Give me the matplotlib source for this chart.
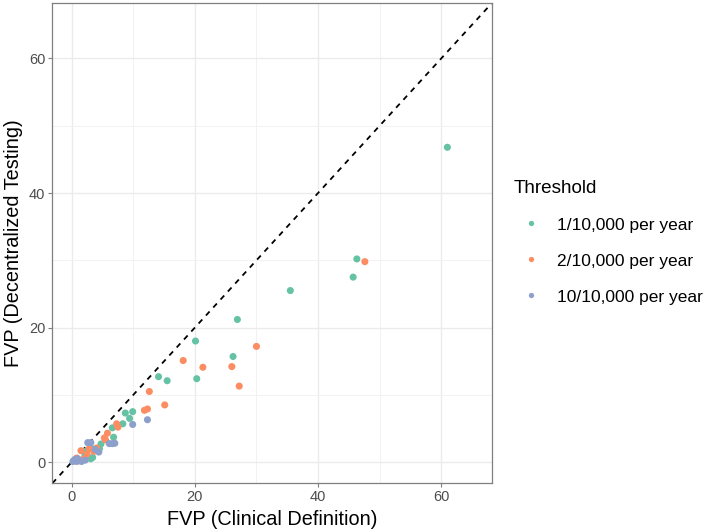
import matplotlib
matplotlib.use("Agg")
import matplotlib.pyplot as plt
from matplotlib.lines import Line2D

plt.rcParams['font.family'] = ['Liberation Sans', 'DejaVu Sans']

# Data
labels = ["1/10,000 per year", "2/10,000 per year", "10/10,000 per year"]
colors = ["#66C2A5", "#FC8D62", "#8DA0CB"]

x_1 = [61.0, 46.3, 45.7, 35.5, 26.9, 20.1, 26.2, 14.1, 15.5, 20.3, 9.9, 8.7, 9.4,
       8.3, 6.6, 6.8, 4.75, 4.5, 3.3, 1.9, 3.1, 2.15, 3.4, 0.3, 1.2]
y_1 = [46.8, 30.2, 27.5, 25.5, 21.2, 18.0, 15.7, 12.7, 12.1, 12.4, 7.5, 7.3, 6.5,
       5.7, 5.1, 3.7, 2.7, 2.0, 2.0, 1.6, 0.5, 0.9, 0.7, 0.2, 0.3]

x_2 = [47.6, 30.0, 18.1, 21.3, 26.0, 27.2, 12.6, 15.1, 11.8, 12.3, 7.3, 7.5, 5.8,
       5.3, 5.5, 2.85, 3.6, 4.05, 1.5, 0.8, 2.5, 1.2, 2.0, 0.5]
y_2 = [29.8, 17.2, 15.1, 14.1, 14.2, 11.3, 10.5, 8.5, 7.7, 7.9, 5.7, 5.2, 4.3,
       3.6, 3.3, 2.0, 1.6, 2.1, 1.7, 0.6, 1.2, 0.2, 0.5, 0.3]

x_10 = [12.3, 9.9, 6.1, 6.6, 7.0, 3.1, 2.6, 3.8, 4.4, 1.6, 0.2, 0.5, 0.8, 2.2, 1.0]
y_10 = [6.3, 5.6, 2.75, 2.75, 2.8, 2.9, 2.9, 1.9, 1.5, 0.1, 0.1, 0.4, 0.1, 0.3, 0.5]

series = [(x_1, y_1), (x_2, y_2), (x_10, y_10)]

fig = plt.figure(figsize=(7.08, 5.32), dpi=100)
ax = fig.add_axes([0.0739, 0.0915, 0.6206, 0.9023])

ax.set_xlim(-3.15, 68.2)
ax.set_ylim(-3.15, 68.2)

# grid like ggplot theme_bw
ax.set_xticks([0, 20, 40, 60])
ax.set_yticks([0, 20, 40, 60])
ax.set_xticks([10, 30, 50], minor=True)
ax.set_yticks([10, 30, 50], minor=True)
ax.grid(which='major', color='#EBEBEB', lw=1.0)
ax.grid(which='minor', color='#F2F2F2', lw=0.7)
ax.set_axisbelow(True)
ax.tick_params(which='minor', length=0)
ax.tick_params(which='major', length=3, width=0.8, color='#7F7F7F',
               labelsize=10.5, labelcolor='#4D4D4D', pad=2)
for s in ax.spines.values():
    s.set_color('#7F7F7F')
    s.set_linewidth(0.9)

ax.axline((0, 0), slope=1, color='black', ls=(0, (3, 3)), lw=1.3, zorder=2)

for (xs, ys), c in zip(series, colors):
    ax.scatter(xs, ys, s=26, color=c, edgecolors='none', zorder=3)

ax.set_xlabel("FVP (Clinical Definition)", fontsize=14.3, labelpad=4)
ax.set_ylabel("FVP (Decentralized Testing)", fontsize=14.3, labelpad=4)

handles = [Line2D([], [], ls='none', marker='o', markersize=3.8,
                  markerfacecolor=c, markeredgecolor='none') for c in colors]
leg = fig.legend(handles, labels, title="Threshold", loc='center left',
                 bbox_to_anchor=(0.704, 0.545), frameon=False, fontsize=12.5,
                 title_fontsize=13.6, handlelength=1.95, handletextpad=0.52,
                 labelspacing=1.2, alignment='left')

fig.savefig("out.png", dpi=100)
